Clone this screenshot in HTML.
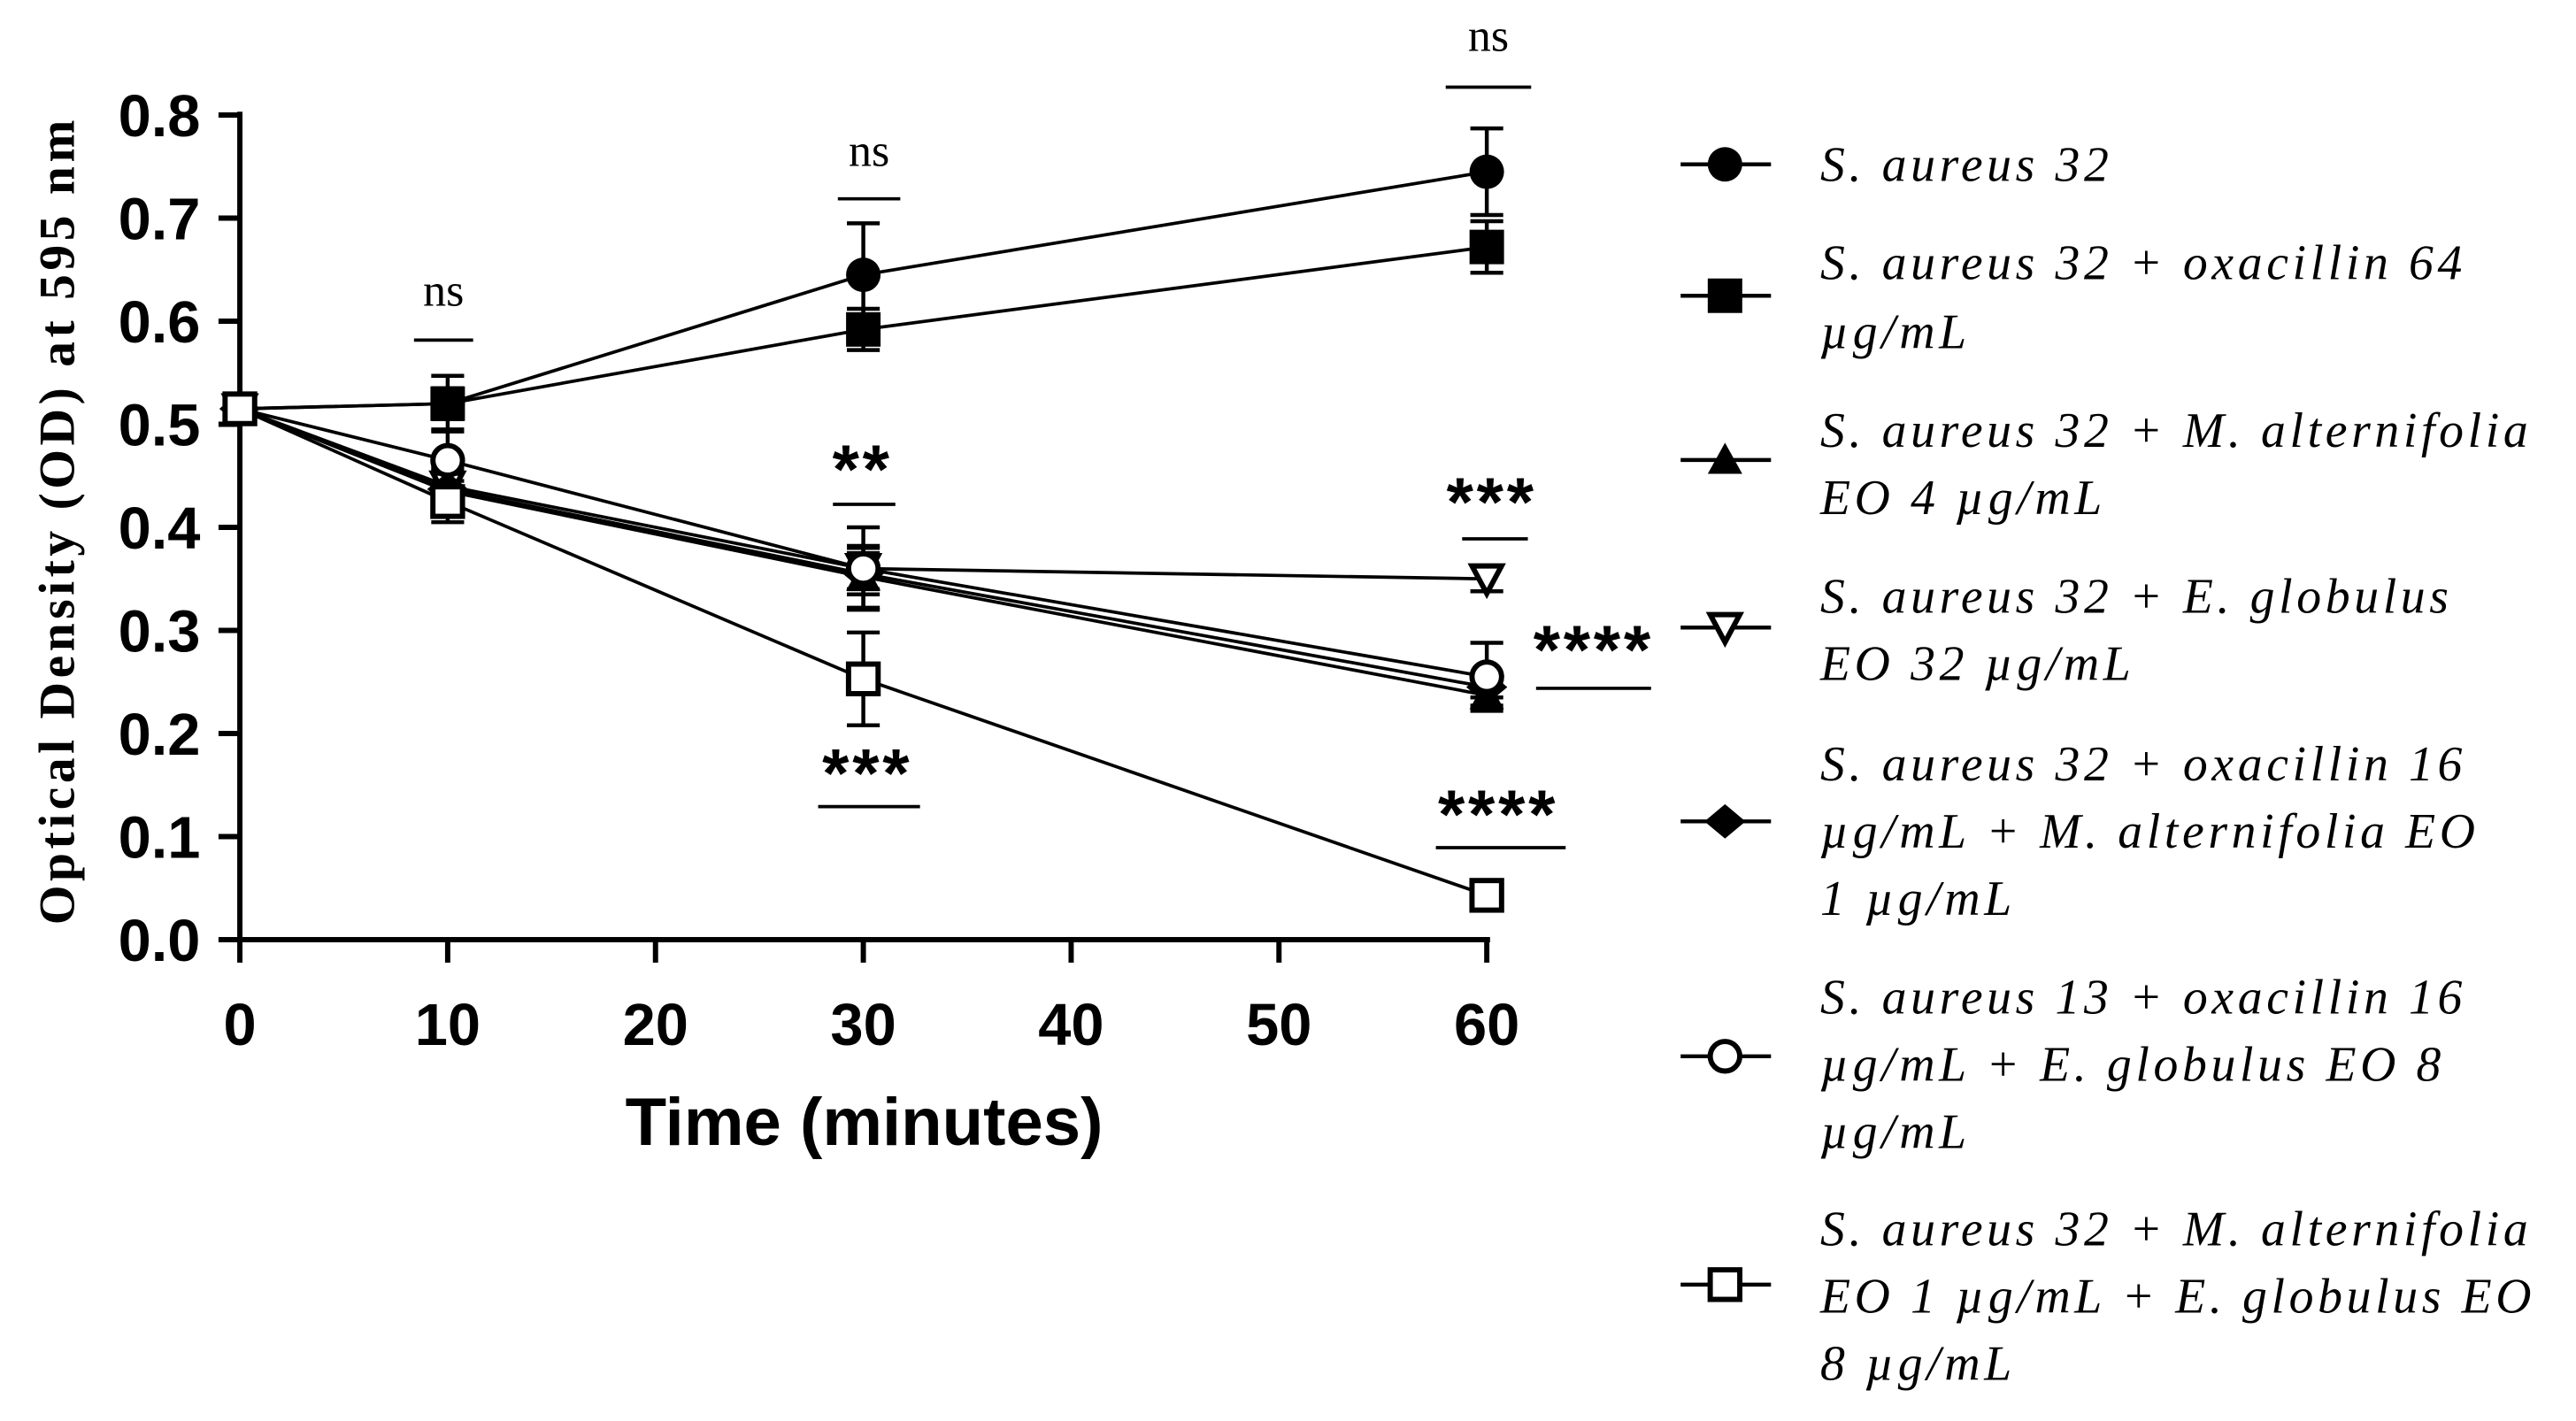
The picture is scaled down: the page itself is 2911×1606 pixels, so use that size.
<!DOCTYPE html>
<html><head><meta charset="utf-8"><style>
html,body{margin:0;padding:0;background:#fff}
svg{display:block}
.tk{font-family:"Liberation Sans Narrow","Liberation Sans",sans-serif;font-weight:bold;font-size:36px}
.lg{font-family:"Liberation Serif",serif;font-style:italic;font-size:30px;letter-spacing:2.5px}
.ns{font-family:"Liberation Serif",serif;font-size:28px}
.st{font-family:"Liberation Sans",sans-serif;font-weight:bold;font-size:42px;letter-spacing:2px}
</style></head><body>
<svg id="chart" width="2911" height="1606" viewBox="0 0 1568 865" xmlns="http://www.w3.org/2000/svg">
<g id="axes"></g>
<g id="series"></g>
<g id="annot"></g>
<g id="legend"></g>
</svg>
<script>
const times=[0,10,30,60];
const xTicks=[0,10,20,30,40,50,60];
const yTicks=[0,0.1,0.2,0.3,0.4,0.5,0.6,0.7,0.8];
const yTickLabels=["0.0","0.1","0.2","0.3","0.4","0.5","0.6","0.7","0.8"];
const sa32=[0.515,0.52,0.645,0.745];
const sa32Err=[0,0.015,0.05,0.042];
const oxa64=[0.515,0.52,0.592,0.672];
const oxa64Err=[0,0.027,0.02,0.025];
const ma4=[0.515,0.435,0.352,0.237];
const ma4Err=[0,0.02,0.03,0.01];
const eg32=[0.515,0.44,0.36,0.35];
const eg32Err=[0,0.02,0.02,0.012];
const oxaMa=[0.515,0.437,0.355,0.245];
const oxaMaErr=[0,0.02,0.02,0.01];
const oxaEg=[0.515,0.465,0.36,0.255];
const oxaEgErr=[0,0.03,0.04,0.033];
const maEg=[0.515,0.425,0.253,0.043];
const maEgErr=[0,0.02,0.045,0.005];
const legendLabels=[["S. aureus 32"],["S. aureus 32 + oxacillin 64","µg/mL"],["S. aureus 32 + M. alternifolia","EO 4 µg/mL"],["S. aureus 32 + E. globulus","EO 32 µg/mL"],["S. aureus 32 + oxacillin 16","µg/mL + M. alternifolia EO","1 µg/mL"],["S. aureus 13 + oxacillin 16","µg/mL + E. globulus EO 8","µg/mL"],["S. aureus 32 + M. alternifolia","EO 1 µg/mL + E. globulus EO","8 µg/mL"]];
const sigLabels=["ns","ns","ns","**","***","***","****","****"];
const NS="http://www.w3.org/2000/svg";
const X=v=>146+v*(905-146)/60;
const Y=v=>572-v*(572-70)/0.8;
function mk(tag,attrs,parent){const e=document.createElementNS(NS,tag);for(const k in attrs)e.setAttribute(k,attrs[k]);parent.appendChild(e);return e;}
const axes=document.getElementById('axes');
let e=mk('line',{x1:146,y1:Y(0.8)-2,x2:146,y2:572,stroke:'#000','stroke-width':3.2},axes);


e=mk('line',{x1:144.4,y1:572,x2:X(60)+2,y2:572,stroke:'#000','stroke-width':3.2},axes);


yTicks.forEach((v,i)=>{
 let t=mk('line',{x1:133,y1:Y(v),x2:146,y2:Y(v),stroke:'#000','stroke-width':3.2},axes);
 
 
 let l=mk('text',{x:122,y:Y(v)+13,'text-anchor':'end',class:'tk'},axes);l.textContent=yTickLabels[i];
 
 
});
xTicks.forEach(v=>{
 let t=mk('line',{x1:X(v),y1:572,x2:X(v),y2:586,stroke:'#000','stroke-width':3.2},axes);
 
 
 let l=mk('text',{x:X(v),y:636,'text-anchor':'middle',class:'tk'},axes);l.textContent=String(v);
 
 
});
e=mk('text',{x:526,y:697,'text-anchor':'middle','font-family':'Liberation Sans, sans-serif','font-weight':'bold','font-size':'41'},axes);
e.textContent='Time (minutes)';


e=mk('text',{x:0,y:0,'text-anchor':'middle','font-family':'Liberation Serif, serif','font-weight':'bold','font-size':'31',textLength:'490',lengthAdjust:'spacing',transform:'translate(45,318) rotate(-90)'},axes);
e.textContent='Optical Density (OD) at 595 nm';



function marker(type,cx,cy,g){
 const s=10.5;let m;
 if(type==='circle')m=mk('circle',{cx,cy,r:s,fill:'#000'},g);
 else if(type==='square')m=mk('rect',{x:cx-s,y:cy-s,width:2*s,height:2*s,fill:'#000'},g);
 else if(type==='tri')m=mk('polygon',{points:`${cx},${cy-s} ${cx+s},${cy+s*0.8} ${cx-s},${cy+s*0.8}`,fill:'#000'},g);
 else if(type==='dtri')m=mk('polygon',{points:`${cx-s+1.5},${cy-s*0.75} ${cx+s-1.5},${cy-s*0.75} ${cx},${cy+s*0.85}`,fill:'#fff',stroke:'#000','stroke-width':3.2},g);
 else if(type==='diamond')m=mk('polygon',{points:`${cx},${cy-s} ${cx+s+2},${cy} ${cx},${cy+s} ${cx-s-2},${cy}`,fill:'#000'},g);
 else if(type==='ocircle')m=mk('circle',{cx,cy,r:s-1.5,fill:'#fff',stroke:'#000','stroke-width':3.2},g);
 else if(type==='osquare')m=mk('rect',{x:cx-s+1.5,y:cy-s+1.5,width:2*s-3,height:2*s-3,fill:'#fff',stroke:'#000','stroke-width':3.2},g);
 return m;
}
const seriesDefs=[[sa32,sa32Err,'circle','s-aureus-32'],[oxa64,oxa64Err,'square','oxacillin-64'],[ma4,ma4Err,'tri','m-alternifolia-4'],[eg32,eg32Err,'dtri','e-globulus-32'],[oxaMa,oxaMaErr,'diamond','oxacillin-m-alternifolia'],[oxaEg,oxaEgErr,'ocircle','oxacillin-e-globulus'],[maEg,maEgErr,'osquare','m-alternifolia-e-globulus']];
const sg=document.getElementById('series');
seriesDefs.forEach(([vals,errs,type,name])=>{
 const g=mk('g',{},sg);
 
 
 const pl=mk('polyline',{points:vals.map((v,i)=>X(times[i])+','+Y(v)).join(' '),fill:'none',stroke:'#000','stroke-width':2},g);
 
 
 vals.forEach((v,i)=>{
  if(errs[i]>0){
   const eb=mk('path',{d:`M${X(times[i])},${Y(v+errs[i])}V${Y(v-errs[i])}M${X(times[i])-10},${Y(v+errs[i])}h20M${X(times[i])-10},${Y(v-errs[i])}h20`,stroke:'#000','stroke-width':2.4,fill:'none'},g);
   
   
  }
  const m=marker(type,X(times[i]),Y(v),g);
  
  
 });
});
const sigPos=[[270,186,207,252,288,'ns'],[529,101,121,510,548,'ns'],[906,31,53,880,932,'ns'],[525,278,307,507,545,'st'],[528,463,491,498,560,'st'],[908,298,328,890,930,'st'],[970,388,419,935,1005,'st'],[912,488,516,874,953,'st']];
const ag=document.getElementById('annot');
sigPos.forEach((p,i)=>{
 const t=mk('text',{x:p[0],y:p[1]+(p[5]==='st'?22:0),'text-anchor':'middle',class:p[5]},ag);
 t.textContent=sigLabels[i];
 
 
 const l=mk('line',{x1:p[3],y1:p[2],x2:p[4],y2:p[2],stroke:'#000','stroke-width':2},ag);
 
 
});
const lg=document.getElementById('legend');
const legY=[100,180,280,382,500,643,782];
const legBase=[[110],[170,212],[272,313],[373,414],[475,516,557],[617,658,699],[758,799,840]];
seriesDefs.forEach((s,i)=>{
 const g=mk('g',{},lg);
 
 
 mk('line',{x1:1023,y1:legY[i],x2:1078,y2:legY[i],stroke:'#000','stroke-width':2.4},g);
 marker(s[2],1050,legY[i],g);
 legendLabels[i].forEach((ln,j)=>{
  const t=mk('text',{x:1108,y:legBase[i][j],class:'lg'},g);
  t.textContent=ln;
 });
});
</script>
</body></html>
